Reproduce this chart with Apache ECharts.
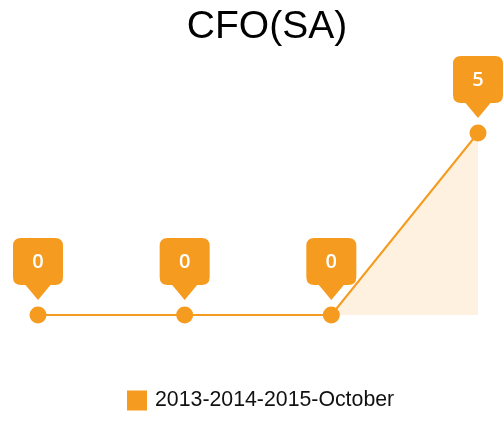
<!DOCTYPE html>
<html>
<head>
<meta charset="utf-8">
<script src="https://cdn.jsdelivr.net/npm/echarts@6/dist/echarts.min.js"></script>
<style>
  html, body { margin: 0; padding: 0; background: #fff; }
  #chart { width: 504px; height: 421px; }
</style>
</head>
<body>
<div id="chart"></div>
<script>
const categories = ['2013', '2014', '2015', 'October'];
const values = [0, 0, 0, 5];
const seriesName = '2013-2014-2015-October';
const titleText = 'CFO(SA)';

const orange = '#F59B1F';
// rounded box with a pointer underneath
const pinPath = 'path://M8,0 L42,0 Q50,0 50,8 L50,39 Q50,47 42,47 L37.5,47 L25,62 L12.5,47 L8,47 Q0,47 0,39 L0,8 Q0,0 8,0 Z';

const chart = echarts.init(document.getElementById('chart'));
chart.setOption({
  animation: false,
  title: {
    text: titleText,
    left: 262,
    textAlign: 'center',
    top: 3,
    textStyle: {
      fontFamily: 'Liberation Sans, Arial, sans-serif',
      fontWeight: 'normal',
      fontSize: 39,
      color: '#000'
    }
  },
  legend: {
    top: 385,
    left: 122,
    itemWidth: 20,
    itemHeight: 20,
    icon: 'rect',
    textStyle: {
      fontFamily: 'Liberation Sans, Arial, sans-serif',
      fontSize: 21.3,
      color: '#111',
      padding: [0, 0, 0, 3]
    },
    data: [seriesName]
  },
  grid: { left: 38, right: 26, top: 133, bottom: 106 },
  xAxis: {
    type: 'category',
    data: categories,
    boundaryGap: false,
    show: false
  },
  yAxis: {
    type: 'value',
    min: 0,
    max: 5,
    show: false
  },
  series: [
    {
      name: seriesName,
      type: 'line',
      data: values,
      symbol: 'circle',
      symbolSize: 17,
      itemStyle: { color: orange },
      lineStyle: { color: orange, width: 2 },
      areaStyle: { color: 'rgba(245,155,31,0.2)' },
      markPoint: {
        symbol: pinPath,
        symbolSize: [50, 62],
        symbolOffset: [0, -46],
        itemStyle: { color: orange },
        label: {
          show: true,
          position: 'inside',
          offset: [0, -7],
          color: '#fff',
          fontSize: 20,
          fontWeight: 600,
          fontFamily: 'Open Sans, sans-serif'
        },
        data: values.map((v, i) => ({ coord: [i, v], value: v }))
      }
    }
  ]
});
</script>
</body>
</html>
